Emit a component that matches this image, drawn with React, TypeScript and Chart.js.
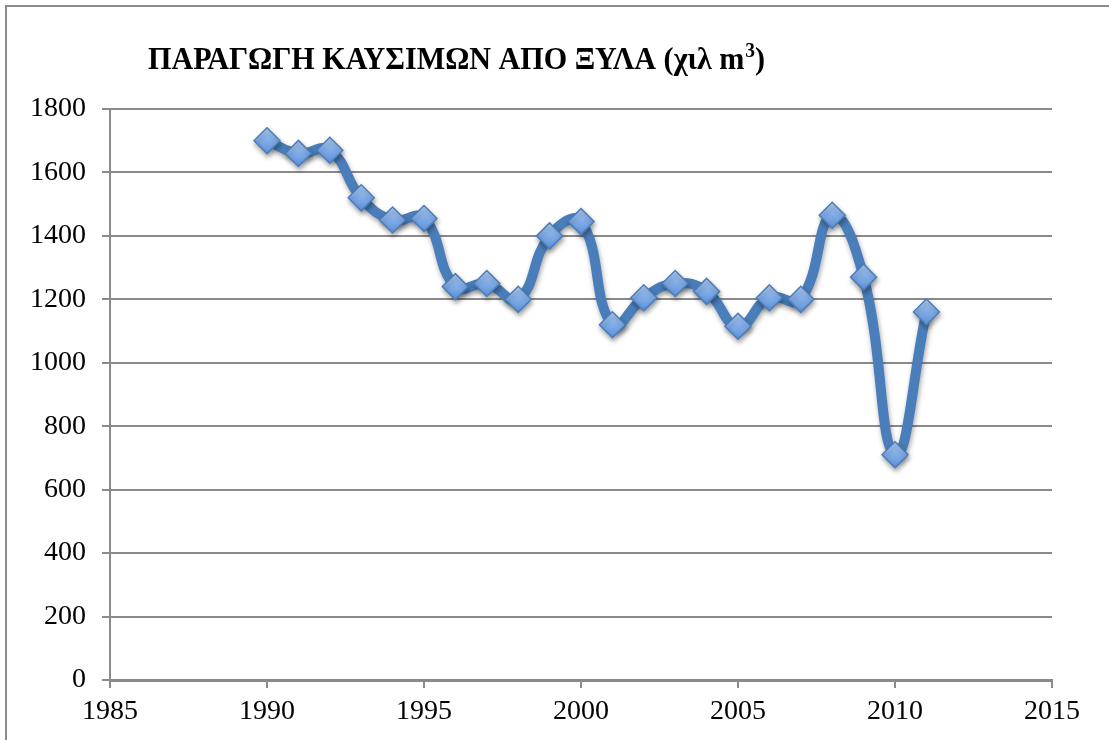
import React, { useEffect, useRef } from "react";
import { Chart, registerables } from "chart.js";

Chart.register(...registerables);

const TITLE_MAIN = "ΠΑΡΑΓΩΓΗ ΚΑΥΣΙΜΩΝ ΑΠΟ ΞΥΛΑ (χιλ m";
const TITLE_SUP = "3";
const TITLE_END = ")";
const years = [1990, 1991, 1992, 1993, 1994, 1995, 1996, 1997, 1998, 1999, 2000, 2001, 2002, 2003, 2004, 2005, 2006, 2007, 2008, 2009, 2010, 2011];
const production = [1700, 1660, 1670, 1520, 1450, 1455, 1240, 1250, 1200, 1400, 1445, 1120, 1205, 1250, 1225, 1115, 1205, 1200, 1465, 1270, 710, 1160];
const xMin = 1985;
const xMax = 2015;
const xStep = 5;
const yMin = 0;
const yMax = 1800;
const yStep = 200;

const W = 1109;
const H = 740;

const framePlugin = {
  id: "frameAndTitle",
  beforeDraw(chart: any) {
    const ctx = chart.ctx;
    ctx.save();
    ctx.fillStyle = "#ffffff";
    ctx.fillRect(0, 0, W, H);
    ctx.strokeStyle = "#8a8a8a";
    ctx.lineWidth = 2;
    ctx.strokeRect(6, 6, W + 50, H + 50);
    ctx.restore();
  },
  afterDraw(chart: any) {
    const ctx = chart.ctx;
    ctx.save();
    const mainFont = "bold 31px 'Liberation Serif'";
    const supFont = "bold 20px 'Liberation Serif'";
    ctx.fillStyle = "#000000";
    ctx.textBaseline = "alphabetic";
    ctx.font = mainFont;
    const w1 = ctx.measureText(TITLE_MAIN).width;
    const w3 = ctx.measureText(TITLE_END).width;
    ctx.font = supFont;
    const w2 = ctx.measureText(TITLE_SUP).width + 1;
    const target = 617;
    const sx = target / (w1 + w2 + w3);
    ctx.translate(148, 69);
    ctx.scale(sx, 1);
    ctx.font = mainFont;
    ctx.fillText(TITLE_MAIN, 0, 0);
    ctx.font = supFont;
    ctx.fillText(TITLE_SUP, w1 + 1, -12);
    ctx.font = mainFont;
    ctx.fillText(TITLE_END, w1 + w2, 0);
    ctx.restore();
  },
};

const shadowPlugin = {
  id: "shadow",
  beforeDatasetsDraw(chart: any) {
    const ctx = chart.ctx;
    ctx.save();
    ctx.shadowColor = "rgba(0,0,0,0.35)";
    ctx.shadowBlur = 5;
    ctx.shadowOffsetX = 1;
    ctx.shadowOffsetY = 3;
  },
  afterDatasetsDraw(chart: any) {
    chart.ctx.restore();
  },
};

function markerFill(c: any) {
  const chart = c.chart;
  const ys = chart.scales && chart.scales.y;
  if (!ys || !c.parsed) return "#80ace8";
  const py = ys.getPixelForValue(c.parsed.y);
  if (!Number.isFinite(py)) return "#80ace8";
  const g = chart.ctx.createLinearGradient(0, py - 13, 0, py + 13);
  g.addColorStop(0, "#b3d0f5");
  g.addColorStop(0.5, "#80ace8");
  g.addColorStop(1, "#5e93db");
  return g;
}

export default function App() {
  const ref = useRef<HTMLCanvasElement>(null);
  useEffect(() => {
    const canvas = ref.current;
    if (!canvas) return;
    const chart = new Chart(canvas, {
      type: "line",
      data: {
        datasets: [
          {
            data: years.map((y, i) => ({ x: y, y: production[i] })),
            borderColor: "#4a7ebb",
            borderWidth: 10,
            tension: 0.45,
            pointStyle: "rectRot",
            pointRadius: 13,
            pointBackgroundColor: markerFill,
            pointBorderColor: "#4a7ebb",
            pointBorderWidth: 1.5,
            fill: false,
          },
        ],
      },
      options: {
        responsive: false,
        animation: false,
        devicePixelRatio: 1,
        layout: { padding: { top: 109, left: 10, right: 57, bottom: 0 } },
        plugins: {
          legend: { display: false },
          title: { display: false },
          tooltip: { enabled: false },
        },
        scales: {
          x: {
            type: "linear",
            min: xMin,
            max: xMax,
            ticks: {
              stepSize: xStep,
              font: { family: "'Liberation Serif'", size: 28 },
              color: "#000000",
              padding: 7,
              callback: (v: any) => String(v),
            },
            grid: {
              drawOnChartArea: false,
              drawTicks: true,
              tickLength: 8,
              color: "#8a8a8a",
              lineWidth: 2,
            },
            border: { display: true, color: "#8a8a8a", width: 3 },
            afterFit(scale: any) {
              scale.height = 60;
            },
          },
          y: {
            min: yMin,
            max: yMax,
            ticks: {
              stepSize: yStep,
              font: { family: "'Liberation Serif'", size: 28 },
              color: "#000000",
              padding: 16,
              callback: (v: any) => String(v),
            },
            grid: {
              drawTicks: true,
              tickLength: 8,
              color: "#8a8a8a",
              lineWidth: 2,
            },
            border: { display: true, color: "#8a8a8a", width: 2 },
            afterFit(scale: any) {
              scale.width = 100;
            },
          },
        },
      },
      plugins: [framePlugin, shadowPlugin],
    } as any);
    return () => chart.destroy();
  }, []);
  return (
    <div style={{ position: "fixed", left: 0, top: 0, width: W, height: H, background: "#fff" }}>
      <canvas ref={ref} width={W} height={H} style={{ display: "block", width: W, height: H }} />
    </div>
  );
}
